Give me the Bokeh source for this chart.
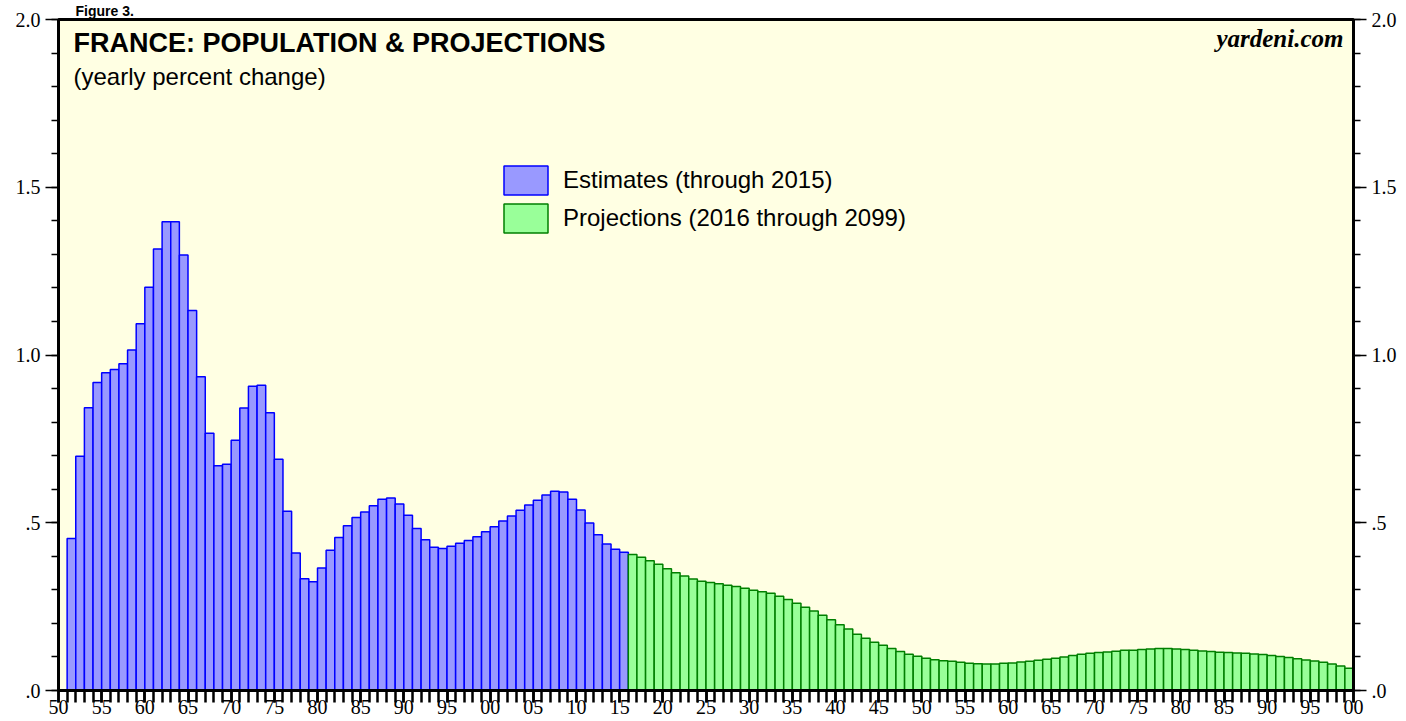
from bokeh.plotting import figure
from bokeh.models import (Range1d, LinearAxis, FixedTicker, Label, Legend, LegendItem,
                          ColumnDataSource, CustomJSTickFormatter)
from bokeh.transform import dodge
from bokeh.embed import file_html
from bokeh.resources import INLINE

# ---------------- data ----------------
est_years = list(range(1951, 2016))
est_values = [
    0.453, 0.698, 0.843, 0.918, 0.947, 0.957, 0.974, 1.015, 1.093, 1.202,
    1.316, 1.397, 1.397, 1.298, 1.133, 0.935, 0.767, 0.670, 0.674, 0.746,
    0.842, 0.907, 0.910, 0.828, 0.689, 0.534, 0.410, 0.333, 0.324, 0.365,
    0.418, 0.456, 0.491, 0.516, 0.532, 0.551, 0.570, 0.574, 0.556, 0.522,
    0.483, 0.449, 0.427, 0.423, 0.430, 0.439, 0.447, 0.458, 0.473, 0.488,
    0.505, 0.520, 0.537, 0.553, 0.567, 0.583, 0.594, 0.592, 0.570, 0.538,
    0.499, 0.464, 0.437, 0.421, 0.412,
]
proj_years = list(range(2016, 2100))
proj_values = [
    0.405, 0.397, 0.387, 0.376, 0.363, 0.351, 0.341, 0.332, 0.326, 0.322,
    0.318, 0.314, 0.310, 0.305, 0.299, 0.294, 0.290, 0.281, 0.271, 0.260,
    0.248, 0.237, 0.224, 0.211, 0.196, 0.183, 0.168, 0.156, 0.144, 0.135,
    0.125, 0.116, 0.108, 0.102, 0.096, 0.092, 0.089, 0.087, 0.084, 0.081,
    0.080, 0.079, 0.079, 0.081, 0.082, 0.085, 0.087, 0.090, 0.093, 0.096,
    0.100, 0.104, 0.108, 0.111, 0.113, 0.115, 0.117, 0.120, 0.120, 0.122,
    0.124, 0.125, 0.125, 0.124, 0.122, 0.120, 0.118, 0.116, 0.114, 0.113,
    0.112, 0.111, 0.109, 0.107, 0.104, 0.101, 0.098, 0.095, 0.091, 0.088,
    0.084, 0.079, 0.073, 0.066,
]
x_major_ticks = list(range(1950, 2101, 5))
x_minor_ticks = list(range(1950, 2101, 1))
y_major_ticks = [0.0, 0.5, 1.0, 1.5, 2.0]
y_minor_ticks = [i / 10 for i in range(0, 21)]

figure_text = "Figure 3."
title_text = "FRANCE: POPULATION & PROJECTIONS"
subtitle_text = "(yearly percent change)"
brand_text = "yardeni.com"
est_label = "Estimates (through 2015)"
proj_label = "Projections (2016 through 2099)"

# ---------------- figure ----------------
SERIF = "Liberation Serif"
SANS = "Liberation Sans"

p = figure(width=1406, height=721, x_range=Range1d(1950, 2100), y_range=Range1d(0, 2.0),
           output_backend="svg", toolbar_location=None, title=figure_text,
           min_border_left=58, min_border_right=53, min_border_top=18, min_border_bottom=31,
           background_fill_color="#FFFFE3", border_fill_color="white")
p.title.text_font = SANS
p.title.text_font_style = "bold"
p.title.text_font_size = "14px"
p.title.text_color = "black"
p.title.align = "left"
p.title.offset = 17
p.title.standoff = 1
p.xgrid.visible = False
p.ygrid.visible = False
p.outline_line_color = "black"
p.outline_line_width = 3

est_src = ColumnDataSource(dict(year=est_years, val=est_values))
proj_src = ColumnDataSource(dict(year=proj_years, val=proj_values))

r_est = p.vbar(x=dodge("year", 0.5), top="val", bottom=0, width=1.0, source=est_src,
               fill_color="#9999FF", line_color="#0000FF", line_width=1.5)
r_proj = p.vbar(x=dodge("year", 0.5), top="val", bottom=0, width=1.0, source=proj_src,
                fill_color="#99FF99", line_color="#007F00", line_width=1.5)

# x axis
xa = p.xaxis[0]
xa.ticker = FixedTicker(ticks=x_major_ticks, minor_ticks=x_minor_ticks)
xa.formatter = CustomJSTickFormatter(code="""
    var s = String(Math.round(tick) % 100);
    return s.length < 2 ? '0' + s : s;
""")
xa.major_tick_out = 12
xa.major_tick_in = 0
xa.minor_tick_out = 12
xa.minor_tick_in = 0
xa.major_tick_line_width = 2.5
xa.minor_tick_line_width = 2.5
xa.axis_line_width = 3
xa.major_label_standoff = -3
xa.major_label_text_font = SERIF
xa.major_label_text_font_size = "20px"
xa.major_label_text_color = "black"

# y axes
ya = p.yaxis[0]
yr = LinearAxis()
p.add_layout(yr, "right")
for ax in (ya, yr):
    ax.ticker = FixedTicker(ticks=y_major_ticks, minor_ticks=y_minor_ticks)
    ax.formatter = CustomJSTickFormatter(code="return tick.toFixed(1).replace(/^0/, '');")
    ax.major_tick_out = 13
    ax.major_tick_in = 0
    ax.minor_tick_out = 7
    ax.minor_tick_in = 0
    ax.major_tick_line_width = 1.5
    ax.minor_tick_line_width = 1.5
    ax.axis_line_width = 3
    ax.major_label_standoff = 5
    ax.major_label_text_font = SERIF
    ax.major_label_text_font_size = "20px"
    ax.major_label_text_color = "black"

# texts (screen units, relative to the plot frame's bottom-left)
p.add_layout(Label(x=15, y=663, x_units="screen", y_units="screen", text=title_text,
                   text_font=SANS, text_font_style="bold", text_font_size="27px",
                   text_baseline="top", text_align="left", text_color="black"))
p.add_layout(Label(x=15, y=628, x_units="screen", y_units="screen", text=subtitle_text,
                   text_font=SANS, text_font_size="24px",
                   text_baseline="top", text_align="left", text_color="black"))
p.add_layout(Label(x=1285, y=666, x_units="screen", y_units="screen", text=brand_text,
                   text_font=SERIF, text_font_style="bold italic", text_font_size="25px",
                   text_baseline="top", text_align="right", text_color="black"))

# legend
legend = Legend(items=[LegendItem(label=est_label, renderers=[r_est]),
                       LegendItem(label=proj_label, renderers=[r_proj])],
                location=(440, 454), orientation="vertical",
                glyph_width=55, glyph_height=36, spacing=2, padding=0, margin=0,
                label_standoff=10, label_text_font=SANS, label_text_font_size="24px",
                label_text_color="black", border_line_alpha=0, background_fill_alpha=0)
p.add_layout(legend, "center")

open("out.html", "w").write(file_html(p, INLINE))
